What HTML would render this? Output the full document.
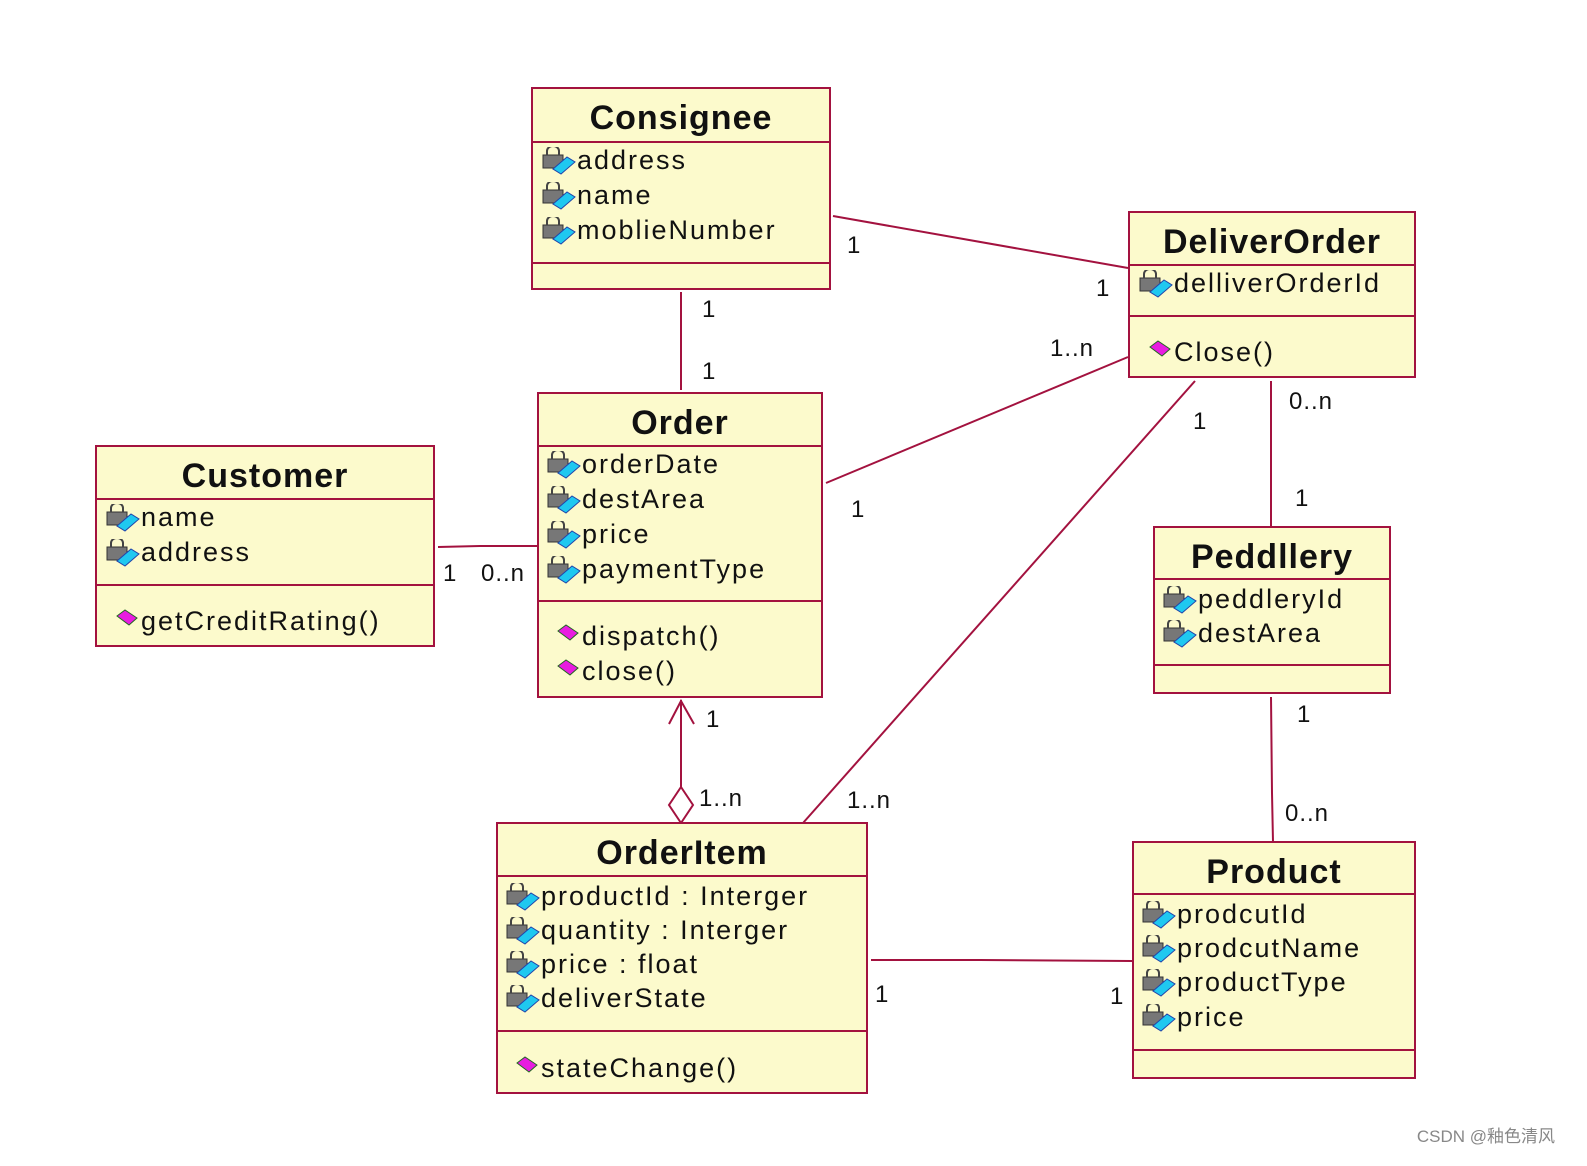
<!DOCTYPE html>
<html><head><meta charset="utf-8"><style>
body{margin:0;width:1587px;height:1166px;background:#fff;position:relative;overflow:hidden;font-family:"Liberation Sans",sans-serif;}
.b{position:absolute;background:#FCFACC;border:2px solid #A3123F;box-sizing:border-box;}
.s{position:absolute;left:0;right:0;height:0;border-top:2px solid #A3123F;}
.t{position:absolute;left:0;right:0;text-align:center;font-size:34px;font-weight:bold;color:#111;letter-spacing:1px;}
.a{position:absolute;font-size:27px;color:#111;letter-spacing:2px;white-space:nowrap;line-height:30px;}
.a svg{position:absolute;left:-36px;top:2px;}
.l{position:absolute;font-size:24px;color:#111;letter-spacing:1px;white-space:nowrap;line-height:26px;}
svg.main{position:absolute;left:0;top:0;}
.wm{position:absolute;right:32px;top:1122px;font-size:17px;color:#888;font-family:"Liberation Sans","Noto Sans CJK SC",sans-serif;}
</style></head><body>
<svg class="main" width="1587" height="1166" fill="none" stroke="#A3123F" stroke-width="2">
<line x1="833" y1="216" x2="1128" y2="268"/>
<line x1="681" y1="292" x2="681" y2="390"/>
<line x1="826" y1="483" x2="1128" y2="357"/>
<line x1="1195" y1="381" x2="803" y2="823"/>
<line x1="1271" y1="381" x2="1271" y2="527"/>
<polyline points="438,547 480,546 537,546"/>
<polyline points="1271,697 1272,793 1273,842"/>
<polyline points="871,960 980,960 1132,961"/>
<line x1="681" y1="700" x2="681" y2="787"/>
<polyline points="669,724 681,701 694,724"/>
<polygon points="681,787 693,805 681,823 669,805" fill="#fff"/>
</svg>

<div class="b" style="left:531px;top:87px;width:300px;height:203px">
<div class="t" style="top:10px">Consignee</div><div class="s" style="top:52px"></div><div class="s" style="top:173px"></div></div>
<div class="b" style="left:1128px;top:211px;width:288px;height:167px">
<div class="t" style="top:10px">DeliverOrder</div><div class="s" style="top:51px"></div><div class="s" style="top:102px"></div></div>
<div class="b" style="left:537px;top:392px;width:286px;height:306px">
<div class="t" style="top:10px">Order</div><div class="s" style="top:51px"></div><div class="s" style="top:206px"></div></div>
<div class="b" style="left:95px;top:445px;width:340px;height:202px">
<div class="t" style="top:10px">Customer</div><div class="s" style="top:51px"></div><div class="s" style="top:137px"></div></div>
<div class="b" style="left:1153px;top:526px;width:238px;height:168px">
<div class="t" style="top:10px">Peddllery</div><div class="s" style="top:50px"></div><div class="s" style="top:136px"></div></div>
<div class="b" style="left:496px;top:822px;width:372px;height:272px">
<div class="t" style="top:10px">OrderItem</div><div class="s" style="top:51px"></div><div class="s" style="top:206px"></div></div>
<div class="b" style="left:1132px;top:841px;width:284px;height:238px">
<div class="t" style="top:10px">Product</div><div class="s" style="top:50px"></div><div class="s" style="top:206px"></div></div>

<div class="a" style="left:577px;top:145px"><svg width="36" height="28"><rect x="2" y="8" width="20" height="13" fill="#777" stroke="#333"/><path d="M6 8 V4 A6 5 0 0 1 18 4 V8" fill="none" stroke="#444" stroke-width="2"/><polygon points="12,22 26,10 34,15 20,27" fill="#1FC8F0" stroke="#2244aa"/></svg>address</div>
<div class="a" style="left:577px;top:180px"><svg width="36" height="28"><rect x="2" y="8" width="20" height="13" fill="#777" stroke="#333"/><path d="M6 8 V4 A6 5 0 0 1 18 4 V8" fill="none" stroke="#444" stroke-width="2"/><polygon points="12,22 26,10 34,15 20,27" fill="#1FC8F0" stroke="#2244aa"/></svg>name</div>
<div class="a" style="left:577px;top:215px"><svg width="36" height="28"><rect x="2" y="8" width="20" height="13" fill="#777" stroke="#333"/><path d="M6 8 V4 A6 5 0 0 1 18 4 V8" fill="none" stroke="#444" stroke-width="2"/><polygon points="12,22 26,10 34,15 20,27" fill="#1FC8F0" stroke="#2244aa"/></svg>moblieNumber</div>

<div class="a" style="left:1174px;top:268px"><svg width="36" height="28"><rect x="2" y="8" width="20" height="13" fill="#777" stroke="#333"/><path d="M6 8 V4 A6 5 0 0 1 18 4 V8" fill="none" stroke="#444" stroke-width="2"/><polygon points="12,22 26,10 34,15 20,27" fill="#1FC8F0" stroke="#2244aa"/></svg>delliverOrderId</div>
<div class="a" style="left:1174px;top:337px"><svg width="36" height="28"><polygon points="12,8 20,2 32,10 24,17" fill="#E81CE0" stroke="#226622"/></svg>Close()</div>

<div class="a" style="left:582px;top:449px"><svg width="36" height="28"><rect x="2" y="8" width="20" height="13" fill="#777" stroke="#333"/><path d="M6 8 V4 A6 5 0 0 1 18 4 V8" fill="none" stroke="#444" stroke-width="2"/><polygon points="12,22 26,10 34,15 20,27" fill="#1FC8F0" stroke="#2244aa"/></svg>orderDate</div>
<div class="a" style="left:582px;top:484px"><svg width="36" height="28"><rect x="2" y="8" width="20" height="13" fill="#777" stroke="#333"/><path d="M6 8 V4 A6 5 0 0 1 18 4 V8" fill="none" stroke="#444" stroke-width="2"/><polygon points="12,22 26,10 34,15 20,27" fill="#1FC8F0" stroke="#2244aa"/></svg>destArea</div>
<div class="a" style="left:582px;top:519px"><svg width="36" height="28"><rect x="2" y="8" width="20" height="13" fill="#777" stroke="#333"/><path d="M6 8 V4 A6 5 0 0 1 18 4 V8" fill="none" stroke="#444" stroke-width="2"/><polygon points="12,22 26,10 34,15 20,27" fill="#1FC8F0" stroke="#2244aa"/></svg>price</div>
<div class="a" style="left:582px;top:554px"><svg width="36" height="28"><rect x="2" y="8" width="20" height="13" fill="#777" stroke="#333"/><path d="M6 8 V4 A6 5 0 0 1 18 4 V8" fill="none" stroke="#444" stroke-width="2"/><polygon points="12,22 26,10 34,15 20,27" fill="#1FC8F0" stroke="#2244aa"/></svg>paymentType</div>
<div class="a" style="left:582px;top:621px"><svg width="36" height="28"><polygon points="12,8 20,2 32,10 24,17" fill="#E81CE0" stroke="#226622"/></svg>dispatch()</div>
<div class="a" style="left:582px;top:656px"><svg width="36" height="28"><polygon points="12,8 20,2 32,10 24,17" fill="#E81CE0" stroke="#226622"/></svg>close()</div>

<div class="a" style="left:141px;top:502px"><svg width="36" height="28"><rect x="2" y="8" width="20" height="13" fill="#777" stroke="#333"/><path d="M6 8 V4 A6 5 0 0 1 18 4 V8" fill="none" stroke="#444" stroke-width="2"/><polygon points="12,22 26,10 34,15 20,27" fill="#1FC8F0" stroke="#2244aa"/></svg>name</div>
<div class="a" style="left:141px;top:537px"><svg width="36" height="28"><rect x="2" y="8" width="20" height="13" fill="#777" stroke="#333"/><path d="M6 8 V4 A6 5 0 0 1 18 4 V8" fill="none" stroke="#444" stroke-width="2"/><polygon points="12,22 26,10 34,15 20,27" fill="#1FC8F0" stroke="#2244aa"/></svg>address</div>
<div class="a" style="left:141px;top:606px"><svg width="36" height="28"><polygon points="12,8 20,2 32,10 24,17" fill="#E81CE0" stroke="#226622"/></svg>getCreditRating()</div>

<div class="a" style="left:1198px;top:584px"><svg width="36" height="28"><rect x="2" y="8" width="20" height="13" fill="#777" stroke="#333"/><path d="M6 8 V4 A6 5 0 0 1 18 4 V8" fill="none" stroke="#444" stroke-width="2"/><polygon points="12,22 26,10 34,15 20,27" fill="#1FC8F0" stroke="#2244aa"/></svg>peddleryId</div>
<div class="a" style="left:1198px;top:618px"><svg width="36" height="28"><rect x="2" y="8" width="20" height="13" fill="#777" stroke="#333"/><path d="M6 8 V4 A6 5 0 0 1 18 4 V8" fill="none" stroke="#444" stroke-width="2"/><polygon points="12,22 26,10 34,15 20,27" fill="#1FC8F0" stroke="#2244aa"/></svg>destArea</div>

<div class="a" style="left:541px;top:881px"><svg width="36" height="28"><rect x="2" y="8" width="20" height="13" fill="#777" stroke="#333"/><path d="M6 8 V4 A6 5 0 0 1 18 4 V8" fill="none" stroke="#444" stroke-width="2"/><polygon points="12,22 26,10 34,15 20,27" fill="#1FC8F0" stroke="#2244aa"/></svg>productId : Interger</div>
<div class="a" style="left:541px;top:915px"><svg width="36" height="28"><rect x="2" y="8" width="20" height="13" fill="#777" stroke="#333"/><path d="M6 8 V4 A6 5 0 0 1 18 4 V8" fill="none" stroke="#444" stroke-width="2"/><polygon points="12,22 26,10 34,15 20,27" fill="#1FC8F0" stroke="#2244aa"/></svg>quantity : Interger</div>
<div class="a" style="left:541px;top:949px"><svg width="36" height="28"><rect x="2" y="8" width="20" height="13" fill="#777" stroke="#333"/><path d="M6 8 V4 A6 5 0 0 1 18 4 V8" fill="none" stroke="#444" stroke-width="2"/><polygon points="12,22 26,10 34,15 20,27" fill="#1FC8F0" stroke="#2244aa"/></svg>price : float</div>
<div class="a" style="left:541px;top:983px"><svg width="36" height="28"><rect x="2" y="8" width="20" height="13" fill="#777" stroke="#333"/><path d="M6 8 V4 A6 5 0 0 1 18 4 V8" fill="none" stroke="#444" stroke-width="2"/><polygon points="12,22 26,10 34,15 20,27" fill="#1FC8F0" stroke="#2244aa"/></svg>deliverState</div>
<div class="a" style="left:541px;top:1053px"><svg width="36" height="28"><polygon points="12,8 20,2 32,10 24,17" fill="#E81CE0" stroke="#226622"/></svg>stateChange()</div>

<div class="a" style="left:1177px;top:899px"><svg width="36" height="28"><rect x="2" y="8" width="20" height="13" fill="#777" stroke="#333"/><path d="M6 8 V4 A6 5 0 0 1 18 4 V8" fill="none" stroke="#444" stroke-width="2"/><polygon points="12,22 26,10 34,15 20,27" fill="#1FC8F0" stroke="#2244aa"/></svg>prodcutId</div>
<div class="a" style="left:1177px;top:933px"><svg width="36" height="28"><rect x="2" y="8" width="20" height="13" fill="#777" stroke="#333"/><path d="M6 8 V4 A6 5 0 0 1 18 4 V8" fill="none" stroke="#444" stroke-width="2"/><polygon points="12,22 26,10 34,15 20,27" fill="#1FC8F0" stroke="#2244aa"/></svg>prodcutName</div>
<div class="a" style="left:1177px;top:967px"><svg width="36" height="28"><rect x="2" y="8" width="20" height="13" fill="#777" stroke="#333"/><path d="M6 8 V4 A6 5 0 0 1 18 4 V8" fill="none" stroke="#444" stroke-width="2"/><polygon points="12,22 26,10 34,15 20,27" fill="#1FC8F0" stroke="#2244aa"/></svg>productType</div>
<div class="a" style="left:1177px;top:1002px"><svg width="36" height="28"><rect x="2" y="8" width="20" height="13" fill="#777" stroke="#333"/><path d="M6 8 V4 A6 5 0 0 1 18 4 V8" fill="none" stroke="#444" stroke-width="2"/><polygon points="12,22 26,10 34,15 20,27" fill="#1FC8F0" stroke="#2244aa"/></svg>price</div>

<div class="l" style="left:847px;top:233px">1</div>
<div class="l" style="left:1096px;top:276px">1</div>
<div class="l" style="left:702px;top:297px">1</div>
<div class="l" style="left:702px;top:359px">1</div>
<div class="l" style="left:1050px;top:336px">1..n</div>
<div class="l" style="left:851px;top:497px">1</div>
<div class="l" style="left:1193px;top:409px">1</div>
<div class="l" style="left:1289px;top:389px">0..n</div>
<div class="l" style="left:1295px;top:486px">1</div>
<div class="l" style="left:443px;top:561px">1</div>
<div class="l" style="left:481px;top:561px">0..n</div>
<div class="l" style="left:706px;top:707px">1</div>
<div class="l" style="left:699px;top:786px">1..n</div>
<div class="l" style="left:847px;top:788px">1..n</div>
<div class="l" style="left:1297px;top:702px">1</div>
<div class="l" style="left:1285px;top:801px">0..n</div>
<div class="l" style="left:875px;top:982px">1</div>
<div class="l" style="left:1110px;top:984px">1</div>
<div class="wm">CSDN @釉色清风</div>
</body></html>
